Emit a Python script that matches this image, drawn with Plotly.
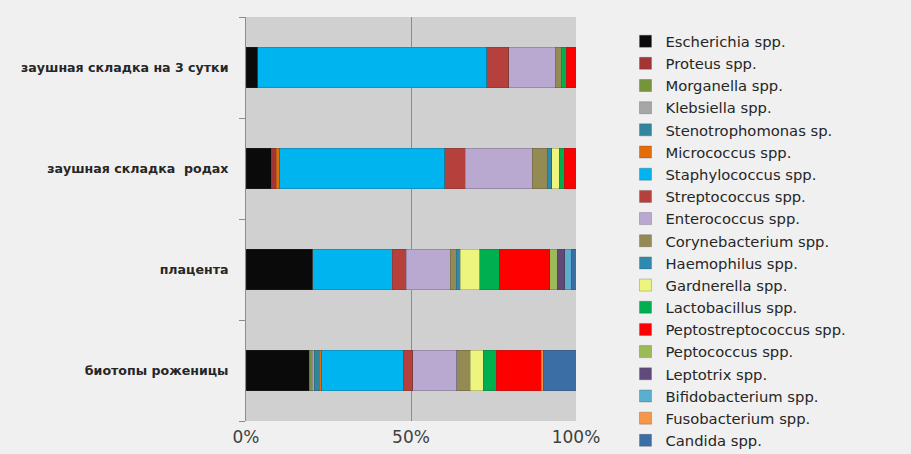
import plotly.graph_objects as go

categories = ["биотопы роженицы", "плацента", "заушная складка  родах", "заушная складка на 3 сутки"]

species = [
    "Escherichia spp.", "Proteus spp.", "Morganella spp.", "Klebsiella spp.",
    "Stenotrophomonas sp.", "Micrococcus spp.", "Staphylococcus spp.", "Streptococcus spp.",
    "Enterococcus spp.", "Corynebacterium spp.", "Haemophilus spp.", "Gardnerella spp.",
    "Lactobacillus spp.", "Peptostreptococcus spp.", "Peptococcus spp.", "Leptotrix spp.",
    "Bifidobacterium spp.", "Fusobacterium spp.", "Candida spp.",
]

# values per species, in order of categories (bottom to top)
escherichia = [19.2, 20.2, 7.6, 3.5]
proteus = [0.0, 0.0, 1.5, 0.0]
morganella = [0.8, 0.0, 0.0, 0.0]
klebsiella = [0.7, 0.0, 0.0, 0.0]
stenotrophomonas = [1.5, 0.0, 0.0, 0.0]
micrococcus = [0.8, 0.0, 1.2, 0.0]
staphylococcus = [24.7, 24.1, 50.0, 69.4]
streptococcus = [2.8, 4.3, 6.1, 6.7]
enterococcus = [13.3, 13.3, 20.3, 14.1]
corynebacterium = [4.1, 1.8, 4.6, 1.8]
haemophilus = [0.0, 1.2, 1.3, 0.0]
gardnerella = [4.0, 5.9, 2.3, 0.0]
lactobacillus = [4.0, 6.0, 1.5, 1.5]
peptostreptococcus = [13.5, 15.3, 3.6, 3.0]
peptococcus = [0.0, 2.2, 0.0, 0.0]
leptotrix = [0.0, 2.3, 0.0, 0.0]
bifidobacterium = [0.0, 2.0, 0.0, 0.0]
fusobacterium = [0.6, 0.0, 0.0, 0.0]
candida = [10.0, 1.4, 0.0, 0.0]

series = [escherichia, proteus, morganella, klebsiella, stenotrophomonas, micrococcus,
          staphylococcus, streptococcus, enterococcus, corynebacterium, haemophilus,
          gardnerella, lactobacillus, peptostreptococcus, peptococcus, leptotrix,
          bifidobacterium, fusobacterium, candida]

colors = [
    "#0a0a0a", "#a33634", "#77933c", "#a6a6a6", "#31859c", "#e46c0a", "#00b4f0",
    "#b5403c", "#b9a9d1", "#948a54", "#2e8bb0", "#eef57e", "#00b050", "#ff0000",
    "#9bbb59", "#604a7b", "#5aaed0", "#f79646", "#3a6ea5",
]

fig = go.Figure()
for name, vals, col in zip(species, series, colors):
    fig.add_trace(go.Bar(
        y=categories, x=vals, name=name, orientation="h",
        marker=dict(color=col, line=dict(color="rgba(60,60,60,0.45)", width=0.6)),
    ))

fig.update_layout(
    barmode="stack",
    bargap=0.6,
    width=911, height=454,
    margin=dict(l=246, r=335, t=17, b=33, autoexpand=False),
    paper_bgcolor="#f0f0f0",
    plot_bgcolor="#d0d0d0",
    showlegend=True,
    legend=dict(
        x=1.15, y=0.98, xanchor="left", yanchor="top",
        traceorder="normal",
        font=dict(family="DejaVu Sans", size=14.75, color="#262626"),
        bgcolor="rgba(0,0,0,0)",
        itemwidth=30,
        tracegroupgap=0,
        maxheight=600,
    ),
    xaxis=dict(
        range=[0, 100], tickvals=[0, 50, 100], ticktext=["0%", "50%", "100%"],
        showgrid=True, gridcolor="#8c8c8c", gridwidth=1,
        zeroline=False, showline=False,
        tickfont=dict(family="DejaVu Sans", size=17, color="#404040"),
        ticks="", ticklabelstandoff=4,
    ),
    yaxis=dict(
        showline=True, linecolor="#8c8c8c", linewidth=1,
        ticks="outside", tickson="boundaries", ticklen=6, tickcolor="#8c8c8c",
        tickfont=dict(family="DejaVu Sans", size=12.6, color="#262626", weight="bold"),
        showgrid=False,
        ticklabelstandoff=14,
    ),
)

fig.write_html("out.html")
